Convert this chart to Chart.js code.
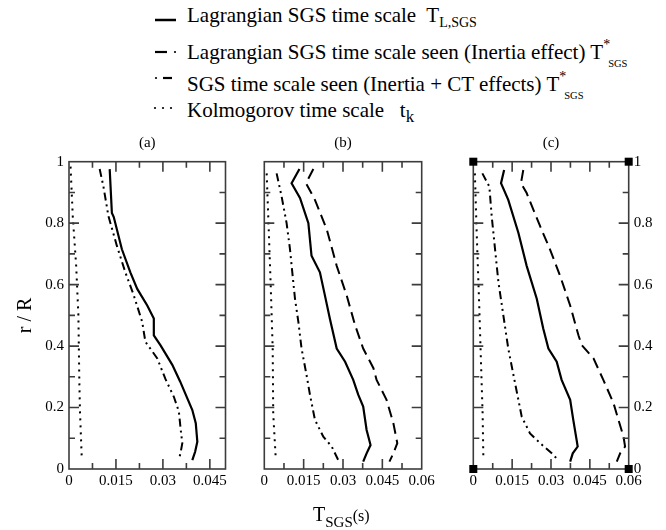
<!DOCTYPE html>
<html>
<head>
<meta charset="utf-8">
<script src="https://cdn.jsdelivr.net/npm/chart.js@4.4.1/dist/chart.umd.min.js"></script>
<style>
  body { margin: 0; background: #fff; }
  #wrap { position: relative; width: 666px; height: 530px; overflow: hidden; font-family: 'Liberation Serif', 'Times New Roman', serif; color: #000; }
  canvas { position: absolute; top: 130px; }
  .lg { position: absolute; left: 187px; font-size: 21px; line-height: 21px; white-space: nowrap; }
  .sb { position: relative; font-size: 14px; top: 5px; }
  .st { position: relative; font-size: 14px; top: -10px; }
  .sc { position: relative; font-size: 10.5px; top: 8px; margin-left: -2px; }
  #xt { position: absolute; left: 313px; top: 504px; font-size: 20px; line-height: 20px; white-space: nowrap; }
  #xt .s1 { position: relative; font-size: 15px; top: 6px; }
  #xt .s2 { font-size: 16px; }
  #keys { position: absolute; left: 150px; top: 0; }
</style>
</head>
<body>
<div id="wrap">
  <svg id="keys" width="36" height="125">
    <line x1="5" y1="20" x2="26" y2="20" stroke="#000" stroke-width="2.5"/>
    <line x1="5" y1="52" x2="17" y2="52" stroke="#000" stroke-width="2.2"/>
    <circle cx="25" cy="52" r="1.1" fill="#000"/>
    <circle cx="6" cy="78" r="1.1" fill="#000"/>
    <line x1="13" y1="78" x2="22" y2="78" stroke="#000" stroke-width="2.2"/>
    <circle cx="5" cy="108" r="1.1" fill="#000"/>
    <circle cx="13" cy="108" r="1.1" fill="#000"/>
    <circle cx="21" cy="108" r="1.1" fill="#000"/>
  </svg>
  <div class="lg" style="top:5px">Lagrangian SGS time scale&nbsp; T<span class="sb">L,SGS</span></div>
  <div class="lg" style="top:42px">Lagrangian SGS time scale seen (Inertia effect) T<span class="st">*</span><span class="sc">SGS</span></div>
  <div class="lg" style="top:74px">SGS time scale seen (Inertia + CT effects) T<span class="st">*</span><span class="sc">SGS</span></div>
  <div class="lg" style="top:100px">Kolmogorov time scale &nbsp;&nbsp;t<span class="sb" style="font-size:17px">k</span></div>
  <canvas id="pa" width="240" height="400" style="left:0px"></canvas>
  <canvas id="pb" width="200" height="400" style="left:240px"></canvas>
  <canvas id="pc" width="226" height="400" style="left:440px"></canvas>
  <div id="xt">T<span class="s1">SGS</span><span class="s2">(s)</span></div>
</div>
<script>
// panel (a)
const aSolidT = [0.0130, 0.0137, 0.0143, 0.0169, 0.0196, 0.0218, 0.0250, 0.0271, 0.0271, 0.0292, 0.0330, 0.0355, 0.0394, 0.0405, 0.0410, 0.0403, 0.0394];
const aSolidR = [0.976, 0.833, 0.820, 0.715, 0.640, 0.586, 0.532, 0.490, 0.435, 0.403, 0.339, 0.285, 0.192, 0.149, 0.089, 0.056, 0.029];
const aDdT = [0.0098, 0.0110, 0.0126, 0.0153, 0.0180, 0.0207, 0.0234, 0.0244, 0.0282, 0.0308, 0.0335, 0.0351, 0.0357, 0.0362, 0.0357, 0.0351];
const aDdR = [0.976, 0.919, 0.823, 0.726, 0.640, 0.565, 0.478, 0.414, 0.360, 0.293, 0.235, 0.187, 0.127, 0.084, 0.056, 0.029];
const aDotT = [0.0005, 0.0012, 0.0023, 0.0030, 0.0033, 0.0035, 0.0041];
const aDotR = [0.984, 0.823, 0.660, 0.500, 0.285, 0.190, 0.029];

// panel (b)
const bSolidT = [0.0134, 0.0104, 0.0136, 0.0168, 0.0180, 0.0212, 0.0231, 0.0250, 0.0276, 0.0308, 0.0339, 0.0358, 0.0377, 0.0390, 0.0405, 0.0390, 0.0377];
const bSolidR = [0.976, 0.930, 0.882, 0.800, 0.694, 0.640, 0.565, 0.489, 0.392, 0.349, 0.290, 0.242, 0.203, 0.127, 0.078, 0.051, 0.024];
const bDashT = [0.0187, 0.0159, 0.0193, 0.0238, 0.0276, 0.0314, 0.0346, 0.0377, 0.0416, 0.0428, 0.0466, 0.0492, 0.0507, 0.0492, 0.0477];
const bDashR = [0.976, 0.930, 0.876, 0.780, 0.661, 0.565, 0.468, 0.392, 0.328, 0.290, 0.225, 0.149, 0.084, 0.051, 0.024];
const bDdT = [0.0047, 0.0066, 0.0085, 0.0098, 0.0108, 0.0117, 0.0130, 0.0142, 0.0161, 0.0174, 0.0193, 0.0225, 0.0257, 0.0282];
const bDdR = [0.962, 0.887, 0.800, 0.715, 0.629, 0.554, 0.478, 0.392, 0.306, 0.242, 0.160, 0.105, 0.073, 0.029];
const bDotT = [0.0009, 0.0015, 0.0024, 0.0032, 0.0034, 0.0044];
const bDotR = [0.962, 0.823, 0.608, 0.392, 0.180, 0.029];

// panel (c)
const cSolidT = [0.0119, 0.0107, 0.0135, 0.0174, 0.0206, 0.0245, 0.0270, 0.0290, 0.0322, 0.0341, 0.0374, 0.0386, 0.0399, 0.0403, 0.0384, 0.0374];
const cSolidR = [0.973, 0.930, 0.876, 0.769, 0.661, 0.554, 0.457, 0.392, 0.349, 0.290, 0.225, 0.160, 0.094, 0.073, 0.051, 0.024];
const cDashT = [0.0193, 0.0184, 0.0206, 0.0258, 0.0296, 0.0335, 0.0374, 0.0406, 0.0419, 0.0464, 0.0502, 0.0541, 0.0580, 0.0586, 0.0567, 0.0554];
const cDashR = [0.973, 0.930, 0.898, 0.790, 0.715, 0.629, 0.532, 0.435, 0.403, 0.360, 0.290, 0.215, 0.105, 0.073, 0.051, 0.024];
const cDdT = [0.0035, 0.0062, 0.0071, 0.0084, 0.0097, 0.0116, 0.0135, 0.0155, 0.0170, 0.0187, 0.0219, 0.0258, 0.0303, 0.0328];
const cDdR = [0.962, 0.919, 0.823, 0.715, 0.608, 0.500, 0.392, 0.306, 0.242, 0.170, 0.116, 0.084, 0.051, 0.029];
const cDotT = [0.0006, 0.0013, 0.0022, 0.0032, 0.0036, 0.0039];
const cDotR = [0.962, 0.770, 0.554, 0.285, 0.180, 0.029];

const FONT = "'Liberation Serif', 'Times New Roman', serif";

const lineStyles = {
    solid: { borderDash: [], borderWidth: 2.2 },
    dash: { borderDash: [11, 6], borderWidth: 2 },
    dashDotDot: { borderDash: [8, 4, 2, 4, 2, 4], borderWidth: 2 },
    dot: { borderDash: [2, 5], borderWidth: 2 }
};

function series(t, r, style) {
    return Object.assign({
        data: t.map((v, i) => ({ x: v, y: r[i] })),
        showLine: true,
        pointRadius: 0,
        borderColor: '#000',
        fill: false,
        tension: 0
    }, lineStyles[style]);
}

// box around the plot with inward tick marks, like the original
const frame = {
    id: 'frame',
    afterDatasetsDraw(chart, args, opts) {
        const { ctx, chartArea: a, scales: { x, y } } = chart;
        ctx.save();
        ctx.strokeStyle = '#3c3c3c';
        ctx.lineWidth = 1.6;
        ctx.beginPath();
        for (let i = 1; i * 0.0075 < opts.xMax - 1e-6; i++) {
            const px = x.getPixelForValue(i * 0.0075);
            const len = i % 2 === 0 ? 10 : 6;
            ctx.moveTo(px, a.bottom); ctx.lineTo(px, a.bottom - len);
            ctx.moveTo(px, a.top); ctx.lineTo(px, a.top + len);
        }
        for (let j = 1; j < 10; j++) {
            const py = y.getPixelForValue(j / 10);
            const len = j % 2 === 0 ? 10 : 6;
            ctx.moveTo(a.left, py); ctx.lineTo(a.left + len, py);
            ctx.moveTo(a.right, py); ctx.lineTo(a.right - len, py);
        }
        ctx.stroke();
        ctx.strokeRect(a.left, a.top, a.right - a.left, a.bottom - a.top);
        if (opts.corners) {
            ctx.fillStyle = '#000';
            [[a.left, a.top], [a.right, a.top], [a.left, a.bottom], [a.right, a.bottom]].forEach(p => {
                ctx.fillRect(p[0] - 4, p[1] - 4, 8, 8);
            });
        }
        ctx.restore();
    }
};

function makePanel(id, title, xMax, datasets, cfg) {
    const tickFont = { family: FONT, size: 15 };
    new Chart(document.getElementById(id), {
        type: 'scatter',
        data: { datasets: datasets },
        options: {
            responsive: false,
            animation: false,
            layout: { padding: { left: cfg.padLeft, right: cfg.padRight, top: 0, bottom: 0 } },
            plugins: {
                legend: { display: false },
                tooltip: { enabled: false },
                title: {
                    display: true, text: title, fullSize: false, color: '#000',
                    font: { family: FONT, size: 15, weight: 'normal' },
                    padding: { top: 4.5, bottom: 9.2 }
                },
                frame: { xMax: xMax, corners: cfg.corners }
            },
            scales: {
                x: {
                    type: 'linear', min: 0, max: xMax,
                    grid: { display: false, drawTicks: false, tickLength: 0 },
                    border: { display: false },
                    ticks: {
                        stepSize: 0.015, includeBounds: false, autoSkip: false, maxRotation: 0,
                        padding: 3, color: '#000', font: tickFont,
                        callback: v => +v.toFixed(3)
                    },
                    afterFit: s => { s.height = 61; }
                },
                y: {
                    type: 'linear', min: 0, max: 1,
                    display: cfg.yPos !== null,
                    position: cfg.yPos || 'left',
                    grid: { display: false, drawTicks: false, tickLength: 0 },
                    border: { display: false },
                    title: {
                        display: !!cfg.yTitle, text: cfg.yTitle || '', color: '#000',
                        font: { family: FONT, size: 20 }, padding: { top: 14, bottom: 0 }
                    },
                    ticks: {
                        stepSize: 0.2, padding: 5, color: '#000', font: tickFont,
                        callback: v => +v.toFixed(1)
                    },
                    afterFit: s => { s.width = cfg.yWidth; }
                }
            }
        },
        plugins: [frame]
    });
}

makePanel('pa', '(a)', 0.05, [
    series(aSolidT, aSolidR, 'solid'),
    series(aDdT, aDdR, 'dashDotDot'),
    series(aDotT, aDotR, 'dot')
], { padLeft: 0, padRight: 14.5, yPos: 'left', yWidth: 69, yTitle: 'r / R', corners: false });

makePanel('pb', '(b)', 0.06, [
    series(bSolidT, bSolidR, 'solid'),
    series(bDashT, bDashR, 'dash'),
    series(bDdT, bDdR, 'dashDotDot'),
    series(bDotT, bDotR, 'dot')
], { padLeft: 24.3, padRight: 18.3, yPos: null, yWidth: 0, yTitle: null, corners: false });

makePanel('pc', '(c)', 0.06, [
    series(cSolidT, cSolidR, 'solid'),
    series(cDashT, cDashR, 'dash'),
    series(cDdT, cDdR, 'dashDotDot'),
    series(cDotT, cDotR, 'dot')
], { padLeft: 33.3, padRight: 0, yPos: 'right', yWidth: 37.3, yTitle: null, corners: true });
</script>
</body>
</html>
